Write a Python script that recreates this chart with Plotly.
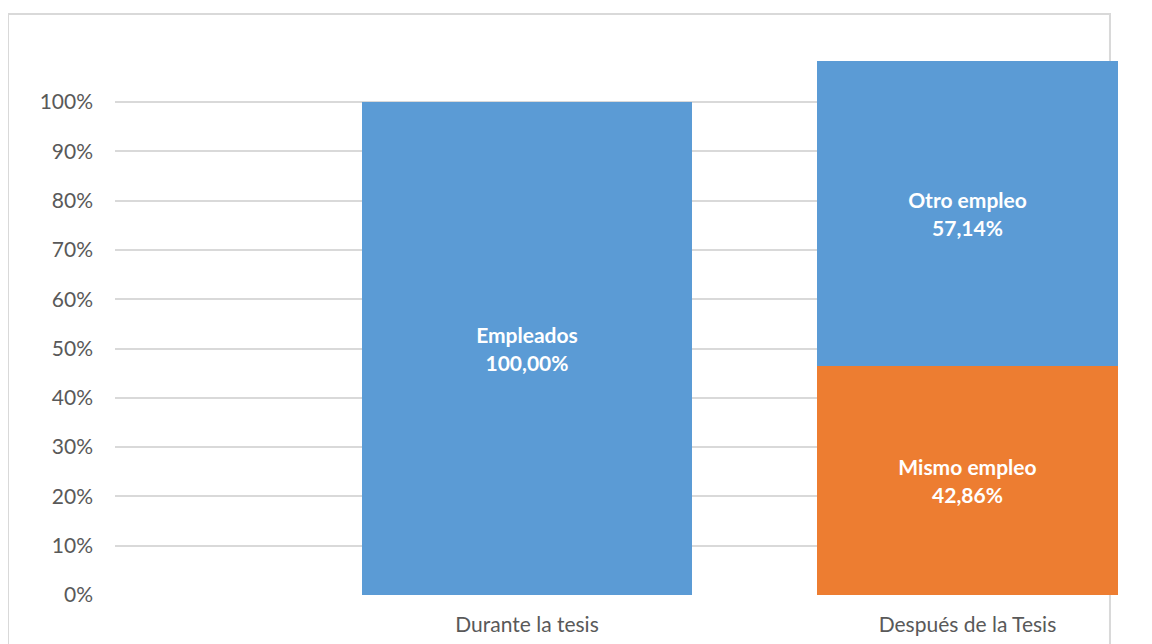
import plotly.graph_objects as go

# data
categories = ["Durante la tesis", "Después de la Tesis"]
durante_series = ["Empleados"]
durante_values = [1.0]
despues_series = ["Mismo empleo", "Otro empleo"]
despues_values = [0.4286, 0.5714]

BLUE = "#5B9BD5"
ORANGE = "#ED7D31"
GRID = "#D9D9D9"
FONT = "Lato"


def pct(v):
    return f"{v * 100:.2f}".replace(".", ",") + "%"


fig = go.Figure()

fig.add_trace(
    go.Bar(
        x=[categories[0]],
        y=durante_values,
        name=durante_series[0],
        marker=dict(color=BLUE, line=dict(width=0)),
        width=0.749,
        text=[f"<b>{durante_series[0]}<br>{pct(durante_values[0])}</b>"],
        textposition="inside",
        insidetextanchor="middle",
        textfont=dict(family=FONT, size=21, color="white"),
        yaxis="y",
    )
)

# the second bar sits on its own (hidden) axis, as in the pasted reference
despues_colors = [ORANGE, BLUE]
for name, val, col in zip(despues_series, despues_values, despues_colors):
    fig.add_trace(
        go.Bar(
            x=[categories[1]],
            y=[val],
            name=name,
            marker=dict(color=col, line=dict(width=0)),
            width=0.683,
            text=[f"<b>{name}<br>{pct(val)}</b>"],
            textposition="inside",
            insidetextanchor="middle",
            textfont=dict(family=FONT, size=21, color="white"),
            yaxis="y2",
        )
    )

# chart area border (Excel style)
fig.add_shape(
    type="rect",
    xref="paper",
    yref="paper",
    x0=-0.1067,
    x1=0.992,
    y0=-0.3,
    y1=1.0525,
    line=dict(color=GRID, width=2),
    layer="below",
)

fig.update_layout(
    width=1152,
    height=644,
    autosize=False,
    margin=dict(l=107, r=42, t=35, b=57),
    paper_bgcolor="white",
    plot_bgcolor="white",
    barmode="stack",
    showlegend=False,
    font=dict(family=FONT, size=21, color="#595959"),
    xaxis=dict(
        type="category",
        categoryorder="array",
        categoryarray=categories,
        range=[-0.9353, 1.3417],
        showgrid=False,
        zeroline=False,
        showline=False,
        ticks="",
        ticklabelstandoff=15,
        tickfont=dict(family=FONT, size=21, color="#595959"),
    ),
    yaxis=dict(
        range=[0, 552 / 493],
        tickvals=[i / 10 for i in range(11)],
        tickformat=".0%",
        showgrid=True,
        gridcolor=GRID,
        gridwidth=1.5,
        zeroline=False,
        showline=False,
        ticks="",
        ticklabelstandoff=21,
        tickfont=dict(family=FONT, size=21, color="#595959"),
    ),
    yaxis2=dict(
        overlaying="y",
        range=[0, 552 / 534],
        visible=False,
        showgrid=False,
    ),
)

fig.write_html("out.html")
